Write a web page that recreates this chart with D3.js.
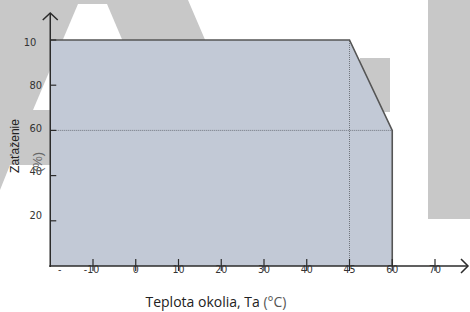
<!DOCTYPE html>
<html>
<head>
<meta charset="utf-8">
<script src="https://cdn.jsdelivr.net/npm/d3@7"></script>
<style>
  body { margin: 0; background: #fff; }
  svg { display: block; }
</style>
</head>
<body>
<div id="chart"></div>
<script>
const width = 470,
  height = 312;

// tick values and labels as printed in the picture
const xTicks = [-20, -10, 0, 10, 20, 30, 40, 45, 60, 70];
const xLabels = ["-", "-10", "0", "10", "20", "30", "40", "45", "60", "70"];
const yTicks = [20, 40, 60, 80, 100];
const yLabels = ["20", "40", "60", "80", "10"];

// derating curve: ambient temperature vs. load
const curveTemp = [-20, 45, 60];
const curveLoad = [100, 100, 60];

// dotted guides
const refTemp = 45;
const refLoad = 60;

const xTitle = "Teplota okolia, Ta ";
const xUnit = "(°C)";
const yTitle = "Zaťaženie";
const yUnit = "(%)";

// the temperature axis is evenly spaced per tick, not linear
const step = 42.75;
const x = d3
  .scaleLinear()
  .domain(xTicks)
  .range(xTicks.map((d, i) => 50.25 + i * step));
const y = d3.scaleLinear().domain([0, 100]).range([266, 40]);
// labels drift a bit away from their ticks in the source
const yLab = d3.scaleLinear().domain([20, 100]).range([214.5, 41.5]);

const svg = d3
  .select("#chart")
  .append("svg")
  .attr("width", width)
  .attr("height", height);

// grey watermark behind the chart
const bg = svg.append("g").attr("fill", "#c8c8c8");
bg.append("polygon").attr(
  "points",
  "0,0 188,0 206,42 50,42 50,165 10,165 0,190"
);
bg.append("rect").attr("x", 360).attr("y", 58).attr("width", 30).attr("height", 54);
bg.append("rect").attr("x", 428).attr("y", 0).attr("width", 42).attr("height", 219);
svg
  .append("polygon")
  .attr("fill", "#fff")
  .attr("points", "78,4 107,4 152,110 33,110");

const pts = curveTemp.map((t, i) => [t, curveLoad[i]]);

// filled area under the curve
svg
  .append("path")
  .datum(pts)
  .attr("fill", "#c2c9d6")
  .attr(
    "d",
    d3
      .area()
      .x((d) => x(d[0]))
      .y0(y(0))
      .y1((d) => y(d[1]))
  );

// dotted guides
const guides = svg
  .append("g")
  .attr("stroke", "#6f747c")
  .attr("stroke-width", 1)
  .attr("stroke-dasharray", "1,1");
guides
  .append("line")
  .attr("x1", x(xTicks[0]))
  .attr("x2", x(d3.max(curveTemp)))
  .attr("y1", y(refLoad))
  .attr("y2", y(refLoad));
guides
  .append("line")
  .attr("x1", x(refTemp))
  .attr("x2", x(refTemp))
  .attr("y1", y(0))
  .attr("y2", y(100));

// curve outline, closing down to the axis
svg
  .append("path")
  .datum(pts.concat([[d3.max(curveTemp), 0]]))
  .attr("fill", "none")
  .attr("stroke", "#555")
  .attr("stroke-width", 1.6)
  .attr(
    "d",
    d3
      .line()
      .x((d) => x(d[0]))
      .y((d) => y(d[1]))
  );

// axes
const ax = svg
  .append("g")
  .attr("stroke", "#2b2b2b")
  .attr("stroke-width", 1.5)
  .attr("fill", "none");
const x0 = x(xTicks[0]);
ax.append("line").attr("x1", x0).attr("x2", x0).attr("y1", y(0) + 1).attr("y2", 13);
ax.append("path").attr("d", `M${x0 - 7.5},20L${x0},13L${x0 + 7.5},20`);
ax.append("line").attr("x1", x0 - 1).attr("x2", 468).attr("y1", y(0)).attr("y2", y(0));
ax.append("path").attr("d", `M461,${y(0) - 7}L468,${y(0)}L461,${y(0) + 7}`);

// x ticks
ax.selectAll(".xt")
  .data(xTicks.slice(1))
  .join("line")
  .attr("stroke-width", 1.2)
  .attr("x1", (d) => x(d))
  .attr("x2", (d) => x(d))
  .attr("y1", y(0) - 7)
  .attr("y2", y(0) + 5);

// y ticks
ax.selectAll(".yt")
  .data(yTicks)
  .join("line")
  .attr("stroke-width", 1.2)
  .attr("x1", x0)
  .attr("x2", x0 + 6)
  .attr("y1", (d) => y(d))
  .attr("y2", (d) => y(d));

const tickFont = "'Liberation Sans Narrow', 'Arial Narrow', 'DejaVu Sans Condensed', sans-serif";

svg
  .append("g")
  .attr("font-family", tickFont)
  .attr("font-size", 10.5)
  .attr("fill", "#333")
  .attr("text-anchor", "middle")
  .selectAll("text")
  .data(xTicks)
  .join("text")
  .attr("x", (d, i) => x(d) + (i === 0 ? 9.5 : i === 1 ? -1.5 : 0))
  .attr("y", 273)
  .text((d, i) => xLabels[i]);

svg
  .append("g")
  .attr("font-family", tickFont)
  .attr("font-size", 11)
  .attr("fill", "#333")
  .attr("text-anchor", "end")
  .selectAll("text")
  .data(yTicks)
  .join("text")
  .attr("x", 42)
  .attr("y", (d) => yLab(d) + 4)
  .attr("dx", (d, i) => -(String(d).length - yLabels[i].length) * 5.6)
  .text((d, i) => yLabels[i]);

// axis titles
svg
  .append("text")
  .attr("font-family", "'Open Sans', sans-serif")
  .attr("font-size", 14)
  .attr("fill", "#222")
  .attr("text-anchor", "middle")
  .attr("x", 216)
  .attr("y", 307)
  .text(xTitle)
  .append("tspan")
  .attr("fill", "#555")
  .text(xUnit);

svg
  .append("text")
  .attr("font-family", "'Liberation Sans', Arial, sans-serif")
  .attr("font-size", 12)
  .attr("fill", "#222")
  .attr("text-anchor", "middle")
  .attr("transform", "translate(19,146) rotate(-90)")
  .text(yTitle);

svg
  .append("text")
  .attr("font-family", "'Liberation Sans', Arial, sans-serif")
  .attr("font-size", 13)
  .attr("fill", "#666")
  .attr("text-anchor", "middle")
  .attr("transform", "translate(42,162) rotate(-90)")
  .text(yUnit);
</script>
</body>
</html>
